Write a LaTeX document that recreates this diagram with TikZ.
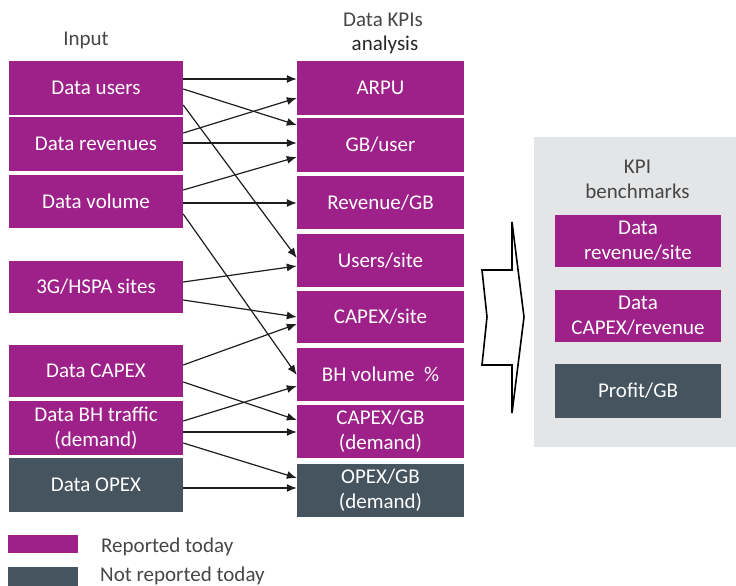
\documentclass[tikz,border=0pt]{standalone}
\usepackage{fontspec}
\setmainfont{Carlito}
\usetikzlibrary{arrows.meta}
\definecolor{ppl}{RGB}{158,32,137}
\definecolor{slate}{RGB}{69,84,95}
\definecolor{panel}{RGB}{228,229,231}
\definecolor{ttl}{RGB}{70,70,70}
\definecolor{arr}{RGB}{30,30,30}
\begin{document}
\begin{tikzpicture}[x=1pt,y=-1pt,
  txt/.style={font=\fontsize{21}{25}\selectfont, align=center},
  pbox/.style={txt, fill=ppl, text=white, inner sep=0pt},
  sbox/.style={txt, fill=slate, text=white, inner sep=0pt},
  lbox/.style={minimum width=174pt},
  rbox/.style={minimum width=167pt},
  kbox/.style={minimum width=166pt},
  ttlt/.style={txt, text=ttl, inner sep=0pt},
  conn/.style={draw=arr, line width=1.2pt, -{Latex[length=10pt,width=8pt]}}]
\useasboundingbox (0,0) rectangle (736,586);
% titles
\node[ttlt] (tin) at (86,40) {Input};
\node[ttlt] (tkpi) at (383,20) {Data KPIs};
\node[ttlt, text=black!85] (tana) at (385,45) {analysis};
% left boxes
\node[pbox, lbox, minimum height=54pt] (du) at (96,88) {Data users};
\node[pbox, lbox, minimum height=54pt] (dr) at (96,144) {Data revenues};
\node[pbox, lbox, minimum height=53pt] (dv) at (96,201.5) {Data volume};
\node[pbox, lbox, minimum height=52pt] (hs) at (96,287) {3G/HSPA sites};
\node[pbox, lbox, minimum height=52pt] (dc) at (96,371) {Data CAPEX};
\node[pbox, lbox, minimum height=54pt] (bh) at (96,428) {Data BH traffic\\(demand)};
\node[sbox, lbox, minimum height=54pt] (do) at (96,485) {Data OPEX};
% right boxes
\node[pbox, rbox, minimum height=54pt] (arpu) at (380.5,88) {ARPU};
\node[pbox, rbox, minimum height=54pt] (gbu) at (380.5,145) {GB/user};
\node[pbox, rbox, minimum height=53pt] (rgb) at (380.5,202.5) {Revenue/GB};
\node[pbox, rbox, minimum height=53pt] (us) at (380.5,260.5) {Users/site};
\node[pbox, rbox, minimum height=52pt] (cs) at (380.5,317) {CAPEX/site};
\node[pbox, rbox, minimum height=53pt] (bhv) at (380.5,374.5) {BH volume~~\%};
\node[pbox, rbox, minimum height=53pt] (cgb) at (380.5,431.5) {CAPEX/GB\\(demand)};
\node[sbox, rbox, minimum height=53pt] (ogb) at (380.5,490.5) {OPEX/GB\\(demand)};
% connectors
\draw[conn] (du.east |- 0,79) -- (arpu.west |- 0,79);
\draw[conn] (du.east |- 0,89) -- (gbu.west |- 0,125);
\draw[conn] (du.east |- 0,105) -- (us.west |- 0,258);
\draw[conn] (dr.east |- 0,133) -- (arpu.west |- 0,98);
\draw[conn] (dr.east |- 0,143) -- (gbu.west |- 0,143);
\draw[conn] (dv.east |- 0,190) -- (gbu.west |- 0,157);
\draw[conn] (dv.east |- 0,203) -- (rgb.west |- 0,203);
\draw[conn] (dv.east |- 0,214) -- (bhv.west |- 0,375);
\draw[conn] (hs.east |- 0,282) -- (us.west |- 0,266);
\draw[conn] (hs.east |- 0,300) -- (cs.west |- 0,317);
\draw[conn] (dc.east |- 0,365) -- (cs.west |- 0,324);
\draw[conn] (dc.east |- 0,382) -- (cgb.west |- 0,420);
\draw[conn] (bh.east |- 0,421) -- (bhv.west |- 0,386);
\draw[conn] (bh.east |- 0,432) -- (cgb.west |- 0,432);
\draw[conn] (bh.east |- 0,443) -- (ogb.west |- 0,478);
\draw[conn] (do.east |- 0,488) -- (ogb.west |- 0,488);
% big arrow
\draw[line width=1.6pt, line join=miter] (512,222) -- (512,270) -- (482,270) -- (487,317) -- (482,365) -- (512,365) -- (512,413) -- (524,317) -- cycle;
% panel
\fill[panel] (534,137) rectangle (736,447);
\node[ttlt] (tbm) at (637.5,179) {KPI\\benchmarks};
\node[pbox, kbox, minimum height=52pt] (k1) at (638,241) {Data\\revenue/site};
\node[pbox, kbox, minimum height=52pt] (k2) at (638,316) {Data\\CAPEX/revenue};
\node[sbox, kbox, minimum height=54pt] (k3) at (638,391) {Profit/GB};
% legend
\fill[ppl] (8,535) rectangle (78,553);
\fill[slate] (8,567) rectangle (78,586);
\node[ttlt, anchor=west] (l1) at (101,547) {Reported today};
\node[ttlt, anchor=west] (l2) at (100,576) {Not reported today};
\end{tikzpicture}
\end{document}
